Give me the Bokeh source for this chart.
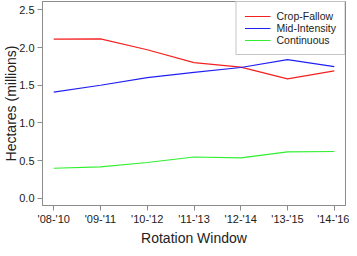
from bokeh.plotting import figure
from bokeh.models import Range1d, FixedTicker, Legend, LegendItem
from bokeh.embed import file_html
from bokeh.resources import INLINE

windows = ["'08-'10", "'09-'11", "'10-'12", "'11-'13", "'12-'14", "'13-'15", "'14-'16"]
crop_fallow = [2.11, 2.115, 1.97, 1.80, 1.74, 1.585, 1.69]
mid_intensity = [1.41, 1.50, 1.60, 1.67, 1.735, 1.84, 1.748]
continuous = [0.40, 0.418, 0.476, 0.549, 0.537, 0.617, 0.622]
y_ticks = [0.0, 0.5, 1.0, 1.5, 2.0, 2.5]

FONT = "Liberation Sans"
GREY = "#8c8c8c"

x = list(range(len(windows)))

p = figure(width=349, height=248, output_backend="svg", toolbar_location=None,
           x_range=Range1d(-0.24, 6.24), y_range=Range1d(-0.094, 2.61),
           min_border_top=1, min_border_right=4, min_border_left=0, min_border_bottom=0)
p.grid.visible = False
p.outline_line_color = GREY
p.outline_line_width = 1

r1 = p.line(x, crop_fallow, line_color="#f52020", line_width=1.2)
r2 = p.line(x, mid_intensity, line_color="#2020f5", line_width=1.2)
r3 = p.line(x, continuous, line_color="#30f030", line_width=1.2)

p.xaxis.ticker = FixedTicker(ticks=x)
p.xaxis.major_label_overrides = {i: w for i, w in enumerate(windows)}
p.yaxis.ticker = FixedTicker(ticks=y_ticks)
p.yaxis.major_label_overrides = {t: f"{t:.1f}" for t in y_ticks}

for ax in (p.xaxis[0], p.yaxis[0]):
    ax.axis_line_color = GREY
    ax.major_tick_line_color = GREY
    ax.minor_tick_line_color = None
    ax.major_tick_in = 0
    ax.major_tick_out = 5
    ax.major_label_text_font = FONT
    ax.major_label_text_font_size = "11px"
    ax.major_label_text_color = "#222222"
    ax.axis_label_text_font = FONT
    ax.axis_label_text_font_size = "14px"
    ax.axis_label_text_font_style = "normal"
    ax.axis_label_text_color = "#222222"

p.xaxis.axis_label = "Rotation Window"
p.yaxis.axis_label = "Hectares (millions)"
p.xaxis.major_label_standoff = 2
p.xaxis.axis_label_standoff = 2
p.yaxis.major_label_standoff = 3
p.yaxis.axis_label_standoff = -3

legend = Legend(items=[LegendItem(label="Crop-Fallow", renderers=[r1]),
                       LegendItem(label="Mid-Intensity", renderers=[r2]),
                       LegendItem(label="Continuous", renderers=[r3])],
                location="top_right", margin=0, padding=8, spacing=0,
                label_height=12, glyph_height=12, glyph_width=26, label_standoff=6,
                border_line_color=GREY, label_text_font=FONT, label_text_font_size="10.5px",
                label_text_color="#222222")
p.add_layout(legend)

open("out.html", "w").write(file_html(p, INLINE))
